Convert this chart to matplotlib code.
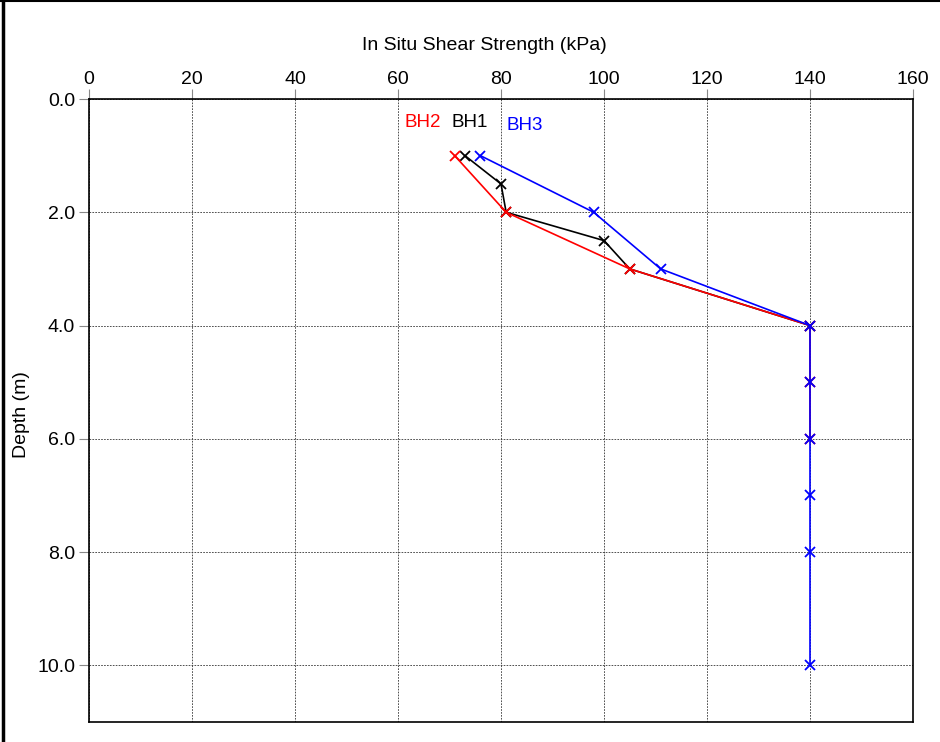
import matplotlib
matplotlib.use("Agg")
import matplotlib.pyplot as plt
from matplotlib.lines import Line2D
from matplotlib.ticker import FormatStrFormatter

plt.rcParams['font.family'] = ['Liberation Sans', 'DejaVu Sans']

bh1_strength = [73, 80, 81, 100, 105, 140]
bh1_depth = [1.0, 1.5, 2.0, 2.5, 3.0, 4.0]
bh2_strength = [71, 81, 105, 140, 140, 140]
bh2_depth = [1.0, 2.0, 3.0, 4.0, 5.0, 6.0]
bh3_strength = [76, 98, 111, 140, 140, 140, 140, 140, 140]
bh3_depth = [1.0, 2.0, 3.0, 4.0, 5.0, 6.0, 7.0, 8.0, 10.0]

x_ticks = [0, 20, 40, 60, 80, 100, 120, 140, 160]
y_ticks = [0, 2, 4, 6, 8, 10]

fig = plt.figure(figsize=(9.4, 7.42), dpi=100)
ax = fig.add_axes([89/940, 1 - 722/742, (913-89)/940, (722-99)/742])

ax.plot(bh1_strength, bh1_depth, color='black', lw=1.2, marker='x', ms=7, mew=1.3, zorder=3)
ax.plot(bh2_strength, bh2_depth, color='red', lw=1.2, marker='x', ms=7, mew=1.3, zorder=4)
ax.plot(bh3_strength, bh3_depth, color='blue', lw=1.2, marker='x', ms=7, mew=1.3, zorder=5)

ax.text(61.3, 0.42, 'BH2', color='red', fontsize=13.5, va='center', ha='left')
ax.text(70.4, 0.41, 'BH1', color='black', fontsize=13.5, va='center', ha='left')
ax.text(81.0, 0.46, 'BH3', color='blue', fontsize=13.5, va='center', ha='left')

ax.set_xlim(0, 160)
ax.set_ylim(11, 0)
ax.set_xticks(x_ticks)
ax.set_yticks(y_ticks)
ax.yaxis.set_major_formatter(FormatStrFormatter('%.1f'))
ax.xaxis.tick_top()
ax.xaxis.set_label_position('top')
ax.tick_params(axis='both', direction='out', length=7, width=0.8, color='#888888', labelsize=14, pad=3)
ax.tick_params(axis='x', pad=1)
ax.set_xlabel('In Situ Shear Strength (kPa)', fontsize=14)
ax.xaxis.set_label_coords(0.48, 1 + (99 - 45.5) / 623, transform=ax.transAxes)
ax.xaxis.label.set_va('center')
ax.set_ylabel('Depth (m)', fontsize=14)
ax.yaxis.set_label_coords(-(89 - 21.5) / 824, 1 - (415 - 99) / 623, transform=ax.transAxes)
ax.yaxis.label.set_va('center')
ax.grid(True, color='#333333', linestyle=(0, (2, 1.5)), linewidth=0.6)
for s in ax.spines.values():
    s.set_linewidth(1.2)
    s.set_color('black')

fig.add_artist(Line2D([0, 1], [0.999, 0.999], transform=fig.transFigure, color='black', lw=1.5))
fig.add_artist(Line2D([3/940, 3/940], [0, 1], transform=fig.transFigure, color='black', lw=2.5))

fig.savefig('out.png', dpi=100)
